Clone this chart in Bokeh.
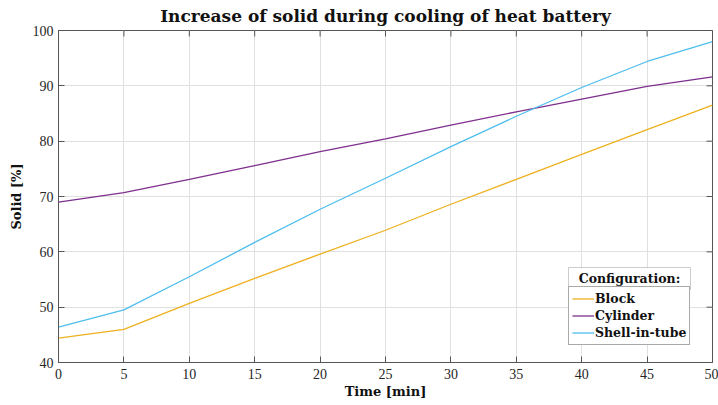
from bokeh.plotting import figure
from bokeh.models import (Range1d, FixedTicker, Legend, LegendItem, BoxAnnotation, Label)
from bokeh.embed import file_html
from bokeh.resources import INLINE

time_min = [0, 5, 10, 15, 20, 25, 30, 35, 40, 45, 50]
block = [44.4, 46.0, 50.7, 55.2, 59.6, 63.9, 68.6, 73.1, 77.6, 82.1, 86.5]
cylinder = [69.0, 70.7, 73.1, 75.6, 78.1, 80.4, 82.9, 85.3, 87.6, 89.9, 91.6]
shell = [46.4, 49.5, 55.5, 61.7, 67.7, 73.3, 79.0, 84.5, 89.7, 94.4, 98.0]
x_ticks = [0, 5, 10, 15, 20, 25, 30, 35, 40, 45, 50]
y_ticks = [40, 50, 60, 70, 80, 90, 100]
series_names = ["Block", "Cylinder", "Shell-in-tube"]
legend_title = "Configuration:"
chart_title = "Increase of solid during cooling of heat battery"

SERIF = "Liberation Serif"
BOLD = "DejaVu Serif"
AX = "#555555"
X0, X1, Y0, Y1 = 0, 50, 40, 100
FRAME_W, FRAME_H = 654, 332

p = figure(width=718, height=405, output_backend="svg", toolbar_location=None,
           x_range=Range1d(X0, X1), y_range=Range1d(Y0, Y1), title=chart_title,
           min_border_left=58, min_border_right=6, min_border_top=30, min_border_bottom=43)

p.title.text_font = BOLD
p.title.text_font_size = "17px"
p.title.text_font_style = "bold"
p.title.align = "center"
p.title.vertical_align = "middle"
p.title.text_color = "#111111"
p.title.text_line_height = 1.0
p.title.standoff = 8

p.outline_line_color = AX
p.outline_line_width = 1

for ax in (p.xaxis[0], p.yaxis[0]):
    ax.major_label_text_font = SERIF
    ax.major_label_text_font_size = "14px"
    ax.major_label_text_color = "#262626"
    ax.axis_label_text_font = BOLD
    ax.axis_label_text_font_size = "13px"
    ax.axis_label_text_font_style = "bold"
    ax.axis_label_text_color = "#111111"
    ax.axis_line_color = AX
    ax.major_tick_line_color = AX
    ax.major_tick_in = 6
    ax.major_tick_out = 0
    ax.minor_tick_line_color = None

p.xaxis.ticker = FixedTicker(ticks=x_ticks)
p.yaxis.ticker = FixedTicker(ticks=y_ticks)
p.xaxis.axis_label = "Time [min]"
p.yaxis.axis_label = "Solid [%]"
p.xaxis.axis_label_standoff = 2
p.yaxis.axis_label_standoff = 6
p.xaxis.major_label_standoff = 6
p.yaxis.major_label_standoff = 5

p.xgrid.ticker = FixedTicker(ticks=x_ticks)
p.ygrid.ticker = FixedTicker(ticks=y_ticks)
p.grid.grid_line_color = "#e0e0e0"
p.grid.grid_line_width = 1

# mirrored ticks on the top and right frame edges (box style)
tick_dy = (Y1 - Y0) * 6 / FRAME_H
tick_dx = (X1 - X0) * 6 / FRAME_W
p.segment(x0=x_ticks, y0=[Y1] * len(x_ticks), x1=x_ticks, y1=[Y1 - tick_dy] * len(x_ticks),
          line_color=AX, line_width=1)
p.segment(x0=[X1] * len(y_ticks), y0=y_ticks, x1=[X1 - tick_dx] * len(y_ticks), y1=y_ticks,
          line_color=AX, line_width=1)

colors = ["#EDB120", "#7E2F8E", "#4DBEEE"]
renderers = []
for ys, c in zip([block, cylinder, shell], colors):
    renderers.append(p.line(time_min, ys, line_color=c, line_width=1.3))

LEG_X, LEG_Y, LEG_W, LEG_H, TITLE_H = 510, 17, 122, 56, 22
legend = Legend(items=[LegendItem(label=n, renderers=[r]) for n, r in zip(series_names, renderers)],
                location=(LEG_X, LEG_Y),
                label_text_font=BOLD, label_text_font_style="bold",
                label_text_font_size="12.5px", label_text_color="#111111",
                glyph_width=22, glyph_height=17, label_standoff=1,
                label_height=17, spacing=0, padding=3, margin=0,
                border_line_color=AX, border_line_width=1,
                background_fill_color="white", background_fill_alpha=1)
p.add_layout(legend)

p.add_layout(BoxAnnotation(left=LEG_X, right=LEG_X + LEG_W,
                           bottom=LEG_Y + LEG_H, top=LEG_Y + LEG_H + TITLE_H,
                           left_units="screen", right_units="screen",
                           bottom_units="screen", top_units="screen",
                           fill_color="white", fill_alpha=1,
                           line_color=AX, line_width=1, level="overlay"))
p.add_layout(Label(x=LEG_X + LEG_W / 2, y=LEG_Y + LEG_H + TITLE_H / 2, text=legend_title,
                   x_units="screen", y_units="screen",
                   text_font=BOLD, text_font_style="bold", text_font_size="12.5px",
                   text_color="#111111", text_align="center", text_baseline="middle",
                   level="overlay"))

open("out.html", "w").write(file_html(p, INLINE))
